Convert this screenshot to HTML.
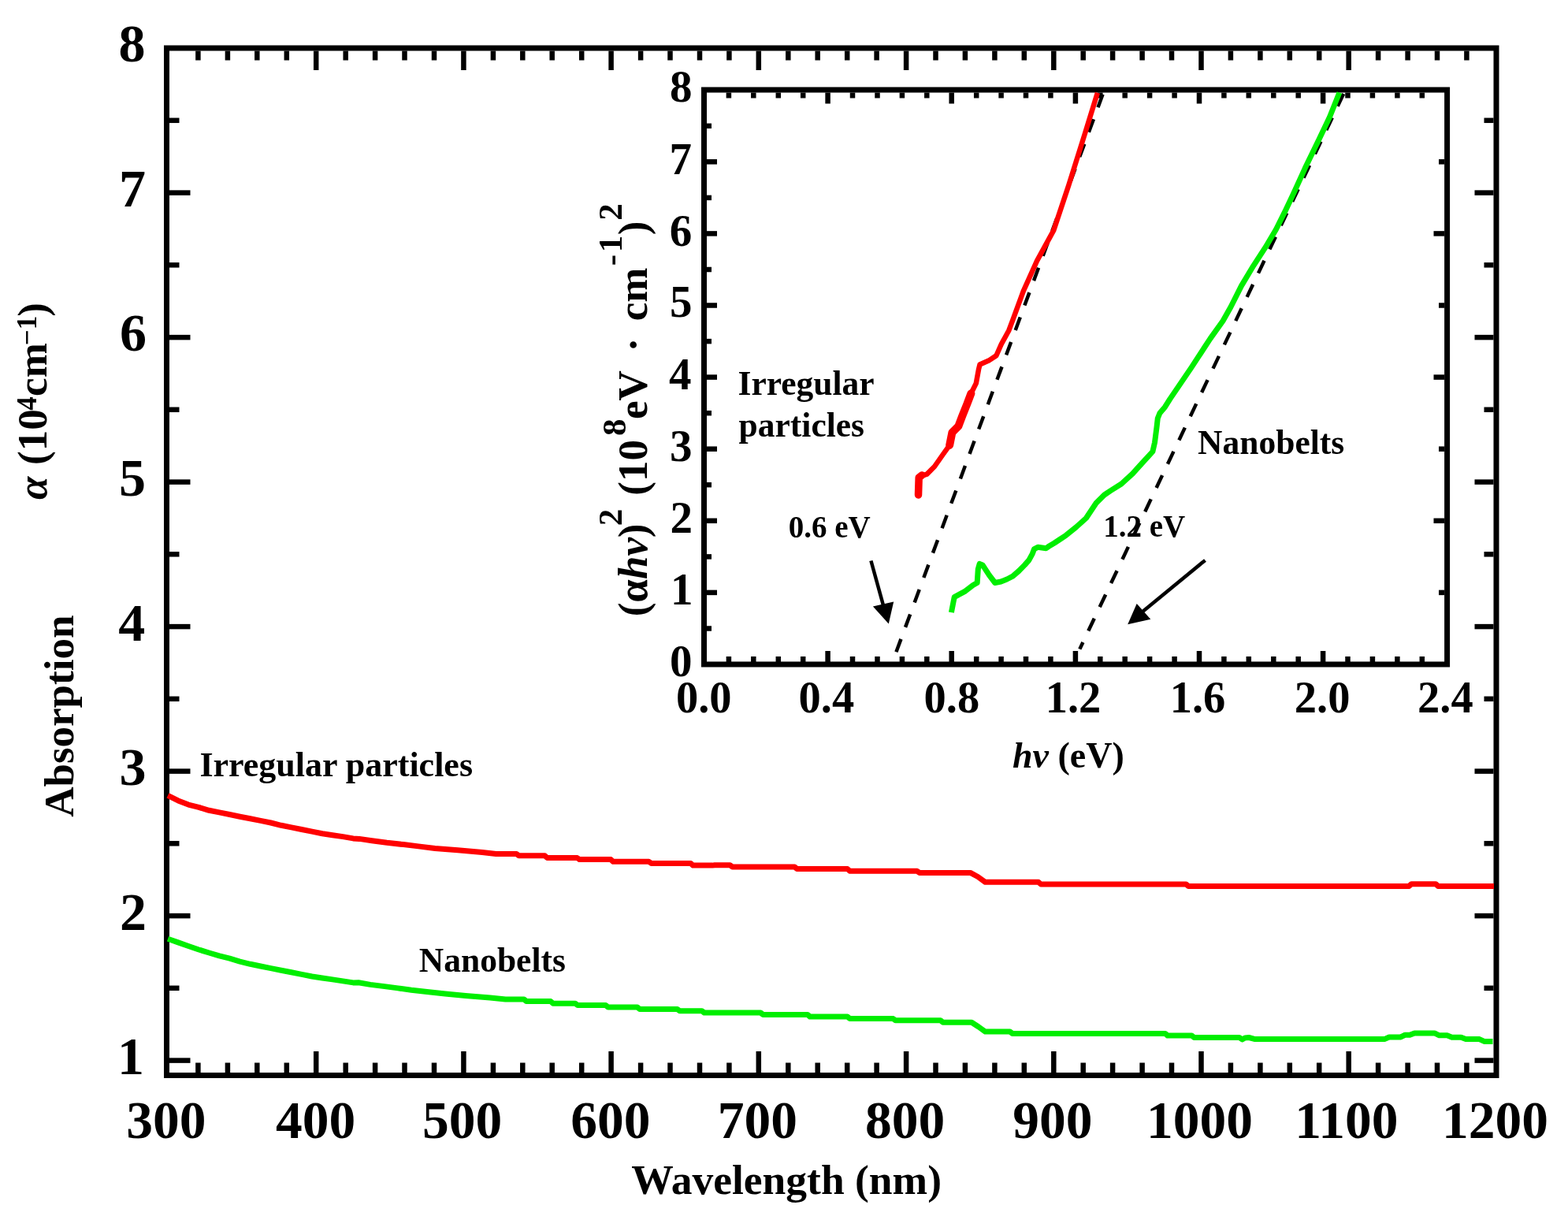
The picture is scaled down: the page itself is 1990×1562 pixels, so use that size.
<!DOCTYPE html>
<html><head><meta charset="utf-8"><title>Absorption spectra</title>
<style>html,body{margin:0;padding:0;background:#fff;}svg{display:block;}</style>
</head><body>
<svg width="1990" height="1562" viewBox="0 0 1990 1562">
<rect width="1990" height="1562" fill="#fff"/>
<rect x="211.5" y="61" width="1687.5" height="1303.5" fill="none" stroke="#000" stroke-width="7"/>
<g stroke="#000" stroke-width="6.5">
<line x1="251.4" y1="1361.0" x2="251.4" y2="1348.5"/>
<line x1="251.4" y1="64.5" x2="251.4" y2="76.5"/>
<line x1="288.9" y1="1361.0" x2="288.9" y2="1348.5"/>
<line x1="288.9" y1="64.5" x2="288.9" y2="76.5"/>
<line x1="326.3" y1="1361.0" x2="326.3" y2="1348.5"/>
<line x1="326.3" y1="64.5" x2="326.3" y2="76.5"/>
<line x1="363.8" y1="1361.0" x2="363.8" y2="1348.5"/>
<line x1="363.8" y1="64.5" x2="363.8" y2="76.5"/>
<line x1="401.2" y1="1361.0" x2="401.2" y2="1334.0"/>
<line x1="401.2" y1="64.5" x2="401.2" y2="89.0"/>
<line x1="438.7" y1="1361.0" x2="438.7" y2="1348.5"/>
<line x1="438.7" y1="64.5" x2="438.7" y2="76.5"/>
<line x1="476.1" y1="1361.0" x2="476.1" y2="1348.5"/>
<line x1="476.1" y1="64.5" x2="476.1" y2="76.5"/>
<line x1="513.5" y1="1361.0" x2="513.5" y2="1348.5"/>
<line x1="513.5" y1="64.5" x2="513.5" y2="76.5"/>
<line x1="551.0" y1="1361.0" x2="551.0" y2="1348.5"/>
<line x1="551.0" y1="64.5" x2="551.0" y2="76.5"/>
<line x1="588.4" y1="1361.0" x2="588.4" y2="1334.0"/>
<line x1="588.4" y1="64.5" x2="588.4" y2="89.0"/>
<line x1="625.9" y1="1361.0" x2="625.9" y2="1348.5"/>
<line x1="625.9" y1="64.5" x2="625.9" y2="76.5"/>
<line x1="663.3" y1="1361.0" x2="663.3" y2="1348.5"/>
<line x1="663.3" y1="64.5" x2="663.3" y2="76.5"/>
<line x1="700.7" y1="1361.0" x2="700.7" y2="1348.5"/>
<line x1="700.7" y1="64.5" x2="700.7" y2="76.5"/>
<line x1="738.2" y1="1361.0" x2="738.2" y2="1348.5"/>
<line x1="738.2" y1="64.5" x2="738.2" y2="76.5"/>
<line x1="775.6" y1="1361.0" x2="775.6" y2="1334.0"/>
<line x1="775.6" y1="64.5" x2="775.6" y2="89.0"/>
<line x1="813.1" y1="1361.0" x2="813.1" y2="1348.5"/>
<line x1="813.1" y1="64.5" x2="813.1" y2="76.5"/>
<line x1="850.5" y1="1361.0" x2="850.5" y2="1348.5"/>
<line x1="850.5" y1="64.5" x2="850.5" y2="76.5"/>
<line x1="888.0" y1="1361.0" x2="888.0" y2="1348.5"/>
<line x1="888.0" y1="64.5" x2="888.0" y2="76.5"/>
<line x1="925.4" y1="1361.0" x2="925.4" y2="1348.5"/>
<line x1="925.4" y1="64.5" x2="925.4" y2="76.5"/>
<line x1="962.8" y1="1361.0" x2="962.8" y2="1334.0"/>
<line x1="962.8" y1="64.5" x2="962.8" y2="89.0"/>
<line x1="1000.3" y1="1361.0" x2="1000.3" y2="1348.5"/>
<line x1="1000.3" y1="64.5" x2="1000.3" y2="76.5"/>
<line x1="1037.7" y1="1361.0" x2="1037.7" y2="1348.5"/>
<line x1="1037.7" y1="64.5" x2="1037.7" y2="76.5"/>
<line x1="1075.2" y1="1361.0" x2="1075.2" y2="1348.5"/>
<line x1="1075.2" y1="64.5" x2="1075.2" y2="76.5"/>
<line x1="1112.6" y1="1361.0" x2="1112.6" y2="1348.5"/>
<line x1="1112.6" y1="64.5" x2="1112.6" y2="76.5"/>
<line x1="1150.1" y1="1361.0" x2="1150.1" y2="1334.0"/>
<line x1="1150.1" y1="64.5" x2="1150.1" y2="89.0"/>
<line x1="1187.5" y1="1361.0" x2="1187.5" y2="1348.5"/>
<line x1="1187.5" y1="64.5" x2="1187.5" y2="76.5"/>
<line x1="1224.9" y1="1361.0" x2="1224.9" y2="1348.5"/>
<line x1="1224.9" y1="64.5" x2="1224.9" y2="76.5"/>
<line x1="1262.4" y1="1361.0" x2="1262.4" y2="1348.5"/>
<line x1="1262.4" y1="64.5" x2="1262.4" y2="76.5"/>
<line x1="1299.8" y1="1361.0" x2="1299.8" y2="1348.5"/>
<line x1="1299.8" y1="64.5" x2="1299.8" y2="76.5"/>
<line x1="1337.3" y1="1361.0" x2="1337.3" y2="1334.0"/>
<line x1="1337.3" y1="64.5" x2="1337.3" y2="89.0"/>
<line x1="1374.7" y1="1361.0" x2="1374.7" y2="1348.5"/>
<line x1="1374.7" y1="64.5" x2="1374.7" y2="76.5"/>
<line x1="1412.1" y1="1361.0" x2="1412.1" y2="1348.5"/>
<line x1="1412.1" y1="64.5" x2="1412.1" y2="76.5"/>
<line x1="1449.6" y1="1361.0" x2="1449.6" y2="1348.5"/>
<line x1="1449.6" y1="64.5" x2="1449.6" y2="76.5"/>
<line x1="1487.0" y1="1361.0" x2="1487.0" y2="1348.5"/>
<line x1="1487.0" y1="64.5" x2="1487.0" y2="76.5"/>
<line x1="1524.5" y1="1361.0" x2="1524.5" y2="1334.0"/>
<line x1="1524.5" y1="64.5" x2="1524.5" y2="89.0"/>
<line x1="1561.9" y1="1361.0" x2="1561.9" y2="1348.5"/>
<line x1="1561.9" y1="64.5" x2="1561.9" y2="76.5"/>
<line x1="1599.4" y1="1361.0" x2="1599.4" y2="1348.5"/>
<line x1="1599.4" y1="64.5" x2="1599.4" y2="76.5"/>
<line x1="1636.8" y1="1361.0" x2="1636.8" y2="1348.5"/>
<line x1="1636.8" y1="64.5" x2="1636.8" y2="76.5"/>
<line x1="1674.2" y1="1361.0" x2="1674.2" y2="1348.5"/>
<line x1="1674.2" y1="64.5" x2="1674.2" y2="76.5"/>
<line x1="1711.7" y1="1361.0" x2="1711.7" y2="1334.0"/>
<line x1="1711.7" y1="64.5" x2="1711.7" y2="89.0"/>
<line x1="1749.1" y1="1361.0" x2="1749.1" y2="1348.5"/>
<line x1="1749.1" y1="64.5" x2="1749.1" y2="76.5"/>
<line x1="1786.6" y1="1361.0" x2="1786.6" y2="1348.5"/>
<line x1="1786.6" y1="64.5" x2="1786.6" y2="76.5"/>
<line x1="1824.0" y1="1361.0" x2="1824.0" y2="1348.5"/>
<line x1="1824.0" y1="64.5" x2="1824.0" y2="76.5"/>
<line x1="1861.4" y1="1361.0" x2="1861.4" y2="1348.5"/>
<line x1="1861.4" y1="64.5" x2="1861.4" y2="76.5"/>
<line x1="215.0" y1="1345.6" x2="241.5" y2="1345.6"/>
<line x1="1895.5" y1="1345.6" x2="1871.5" y2="1345.6"/>
<line x1="215.0" y1="1253.8" x2="227.5" y2="1253.8"/>
<line x1="1895.5" y1="1253.8" x2="1883.5" y2="1253.8"/>
<line x1="215.0" y1="1162.1" x2="241.5" y2="1162.1"/>
<line x1="1895.5" y1="1162.1" x2="1871.5" y2="1162.1"/>
<line x1="215.0" y1="1070.3" x2="227.5" y2="1070.3"/>
<line x1="1895.5" y1="1070.3" x2="1883.5" y2="1070.3"/>
<line x1="215.0" y1="978.6" x2="241.5" y2="978.6"/>
<line x1="1895.5" y1="978.6" x2="1871.5" y2="978.6"/>
<line x1="215.0" y1="886.8" x2="227.5" y2="886.8"/>
<line x1="1895.5" y1="886.8" x2="1883.5" y2="886.8"/>
<line x1="215.0" y1="795.1" x2="241.5" y2="795.1"/>
<line x1="1895.5" y1="795.1" x2="1871.5" y2="795.1"/>
<line x1="215.0" y1="703.3" x2="227.5" y2="703.3"/>
<line x1="1895.5" y1="703.3" x2="1883.5" y2="703.3"/>
<line x1="215.0" y1="611.6" x2="241.5" y2="611.6"/>
<line x1="1895.5" y1="611.6" x2="1871.5" y2="611.6"/>
<line x1="215.0" y1="519.8" x2="227.5" y2="519.8"/>
<line x1="1895.5" y1="519.8" x2="1883.5" y2="519.8"/>
<line x1="215.0" y1="428.1" x2="241.5" y2="428.1"/>
<line x1="1895.5" y1="428.1" x2="1871.5" y2="428.1"/>
<line x1="215.0" y1="336.3" x2="227.5" y2="336.3"/>
<line x1="1895.5" y1="336.3" x2="1883.5" y2="336.3"/>
<line x1="215.0" y1="244.6" x2="241.5" y2="244.6"/>
<line x1="1895.5" y1="244.6" x2="1871.5" y2="244.6"/>
<line x1="215.0" y1="152.8" x2="227.5" y2="152.8"/>
<line x1="1895.5" y1="152.8" x2="1883.5" y2="152.8"/>
</g>
<rect x="893.5" y="114" width="943.1" height="729" fill="none" stroke="#000" stroke-width="7"/>
<g stroke="#000" stroke-width="6.5">
<line x1="924.9" y1="840.0" x2="924.9" y2="833.0"/>
<line x1="924.9" y1="117.5" x2="924.9" y2="124.5"/>
<line x1="956.3" y1="840.0" x2="956.3" y2="833.0"/>
<line x1="956.3" y1="117.5" x2="956.3" y2="124.5"/>
<line x1="987.8" y1="840.0" x2="987.8" y2="833.0"/>
<line x1="987.8" y1="117.5" x2="987.8" y2="124.5"/>
<line x1="1019.2" y1="840.0" x2="1019.2" y2="833.0"/>
<line x1="1019.2" y1="117.5" x2="1019.2" y2="124.5"/>
<line x1="1050.6" y1="840.0" x2="1050.6" y2="826.0"/>
<line x1="1050.6" y1="117.5" x2="1050.6" y2="131.5"/>
<line x1="1082.0" y1="840.0" x2="1082.0" y2="833.0"/>
<line x1="1082.0" y1="117.5" x2="1082.0" y2="124.5"/>
<line x1="1113.5" y1="840.0" x2="1113.5" y2="833.0"/>
<line x1="1113.5" y1="117.5" x2="1113.5" y2="124.5"/>
<line x1="1144.9" y1="840.0" x2="1144.9" y2="833.0"/>
<line x1="1144.9" y1="117.5" x2="1144.9" y2="124.5"/>
<line x1="1176.3" y1="840.0" x2="1176.3" y2="833.0"/>
<line x1="1176.3" y1="117.5" x2="1176.3" y2="124.5"/>
<line x1="1207.7" y1="840.0" x2="1207.7" y2="826.0"/>
<line x1="1207.7" y1="117.5" x2="1207.7" y2="131.5"/>
<line x1="1239.2" y1="840.0" x2="1239.2" y2="833.0"/>
<line x1="1239.2" y1="117.5" x2="1239.2" y2="124.5"/>
<line x1="1270.6" y1="840.0" x2="1270.6" y2="833.0"/>
<line x1="1270.6" y1="117.5" x2="1270.6" y2="124.5"/>
<line x1="1302.0" y1="840.0" x2="1302.0" y2="833.0"/>
<line x1="1302.0" y1="117.5" x2="1302.0" y2="124.5"/>
<line x1="1333.4" y1="840.0" x2="1333.4" y2="833.0"/>
<line x1="1333.4" y1="117.5" x2="1333.4" y2="124.5"/>
<line x1="1364.9" y1="840.0" x2="1364.9" y2="826.0"/>
<line x1="1364.9" y1="117.5" x2="1364.9" y2="131.5"/>
<line x1="1396.3" y1="840.0" x2="1396.3" y2="833.0"/>
<line x1="1396.3" y1="117.5" x2="1396.3" y2="124.5"/>
<line x1="1427.7" y1="840.0" x2="1427.7" y2="833.0"/>
<line x1="1427.7" y1="117.5" x2="1427.7" y2="124.5"/>
<line x1="1459.1" y1="840.0" x2="1459.1" y2="833.0"/>
<line x1="1459.1" y1="117.5" x2="1459.1" y2="124.5"/>
<line x1="1490.6" y1="840.0" x2="1490.6" y2="833.0"/>
<line x1="1490.6" y1="117.5" x2="1490.6" y2="124.5"/>
<line x1="1522.0" y1="840.0" x2="1522.0" y2="826.0"/>
<line x1="1522.0" y1="117.5" x2="1522.0" y2="131.5"/>
<line x1="1553.4" y1="840.0" x2="1553.4" y2="833.0"/>
<line x1="1553.4" y1="117.5" x2="1553.4" y2="124.5"/>
<line x1="1584.8" y1="840.0" x2="1584.8" y2="833.0"/>
<line x1="1584.8" y1="117.5" x2="1584.8" y2="124.5"/>
<line x1="1616.3" y1="840.0" x2="1616.3" y2="833.0"/>
<line x1="1616.3" y1="117.5" x2="1616.3" y2="124.5"/>
<line x1="1647.7" y1="840.0" x2="1647.7" y2="833.0"/>
<line x1="1647.7" y1="117.5" x2="1647.7" y2="124.5"/>
<line x1="1679.1" y1="840.0" x2="1679.1" y2="826.0"/>
<line x1="1679.1" y1="117.5" x2="1679.1" y2="131.5"/>
<line x1="1710.5" y1="840.0" x2="1710.5" y2="833.0"/>
<line x1="1710.5" y1="117.5" x2="1710.5" y2="124.5"/>
<line x1="1741.9" y1="840.0" x2="1741.9" y2="833.0"/>
<line x1="1741.9" y1="117.5" x2="1741.9" y2="124.5"/>
<line x1="1773.4" y1="840.0" x2="1773.4" y2="833.0"/>
<line x1="1773.4" y1="117.5" x2="1773.4" y2="124.5"/>
<line x1="1804.8" y1="840.0" x2="1804.8" y2="833.0"/>
<line x1="1804.8" y1="117.5" x2="1804.8" y2="124.5"/>
<line x1="897.0" y1="797.5" x2="903.0" y2="797.5"/>
<line x1="897.0" y1="751.9" x2="910.0" y2="751.9"/>
<line x1="897.0" y1="706.4" x2="903.0" y2="706.4"/>
<line x1="897.0" y1="660.8" x2="910.0" y2="660.8"/>
<line x1="897.0" y1="615.2" x2="903.0" y2="615.2"/>
<line x1="897.0" y1="569.7" x2="910.0" y2="569.7"/>
<line x1="897.0" y1="524.2" x2="903.0" y2="524.2"/>
<line x1="897.0" y1="478.6" x2="910.0" y2="478.6"/>
<line x1="897.0" y1="433.1" x2="903.0" y2="433.1"/>
<line x1="897.0" y1="387.5" x2="910.0" y2="387.5"/>
<line x1="897.0" y1="342.0" x2="903.0" y2="342.0"/>
<line x1="897.0" y1="296.4" x2="910.0" y2="296.4"/>
<line x1="897.0" y1="250.9" x2="903.0" y2="250.9"/>
<line x1="897.0" y1="205.3" x2="910.0" y2="205.3"/>
<line x1="897.0" y1="159.8" x2="903.0" y2="159.8"/>
<line x1="1833.0" y1="751.9" x2="1826.0" y2="751.9"/>
<line x1="1833.0" y1="660.8" x2="1819.5" y2="660.8"/>
<line x1="1833.0" y1="569.7" x2="1826.0" y2="569.7"/>
<line x1="1833.0" y1="478.6" x2="1819.5" y2="478.6"/>
<line x1="1833.0" y1="387.5" x2="1826.0" y2="387.5"/>
<line x1="1833.0" y1="296.4" x2="1819.5" y2="296.4"/>
<line x1="1833.0" y1="205.3" x2="1826.0" y2="205.3"/>
</g>
<line x1="1137.4" y1="827.3" x2="1400.4" y2="117.5" stroke="#000" stroke-width="4.5" stroke-dasharray="17.5 16"/>
<line x1="1370.3" y1="823.6" x2="1705.9" y2="117.5" stroke="#000" stroke-width="4.5" stroke-dasharray="17.5 16" stroke-dashoffset="7.9"/>
<polyline points="213.0,1009.4 226.1,1015.9 239.2,1021.1 252.3,1024.4 265.3,1028.3 278.4,1030.9 291.5,1033.5 304.5,1036.2 317.6,1038.8 330.7,1041.4 343.7,1044.0 356.8,1047.3 369.8,1049.9 382.9,1052.5 396.0,1055.1 409.0,1057.7 422.1,1059.7 435.2,1061.6 448.2,1063.9 456.0,1064.4 472.0,1066.7 491.0,1069.3 512.0,1071.6 531.0,1073.9 552.0,1076.5 581.0,1078.7 612.0,1081.4 629.5,1083.4 655.5,1083.4 658.5,1085.8 691.5,1085.8 694.5,1088.5 732.5,1088.5 735.5,1090.6 775.2,1090.6 778.2,1093.3 823.5,1093.3 826.5,1095.4 876.5,1095.4 879.5,1098.1 904.0,1098.1 907.0,1097.7 926.5,1097.7 929.5,1100.1 1008.5,1100.1 1011.5,1102.5 1075.5,1102.5 1078.5,1105.3 1163.9,1105.3 1166.9,1107.4 1231.5,1107.4 1241.0,1112.5 1250.5,1119.3 1318.0,1119.3 1321.0,1122.0 1505.3,1122.0 1508.3,1124.4 1788.3,1124.4 1791.3,1121.7 1822.1,1121.7 1825.1,1124.4 1896.0,1124.4" fill="none" stroke="#ff0000" stroke-width="7" stroke-linejoin="round" stroke-linecap="butt"/>
<polyline points="213.0,1191.3 226.1,1195.9 239.2,1200.5 252.3,1205.0 265.3,1209.0 278.4,1212.9 291.5,1216.2 304.5,1220.1 317.6,1223.3 330.7,1226.0 343.7,1228.6 356.8,1231.2 369.8,1233.8 382.9,1236.4 396.0,1239.0 409.0,1241.0 422.1,1242.9 435.2,1244.9 448.2,1246.9 455.0,1246.8 470.0,1249.4 488.0,1251.6 505.0,1253.9 522.0,1256.3 542.0,1258.5 565.0,1261.1 591.0,1263.5 622.0,1266.0 641.5,1268.0 665.0,1268.0 668.0,1270.5 698.8,1270.5 701.8,1273.2 730.1,1273.2 733.1,1275.6 768.7,1275.6 771.7,1278.0 808.9,1278.0 811.9,1280.4 859.6,1280.4 862.6,1282.8 890.9,1282.8 893.9,1285.1 965.4,1285.1 968.4,1287.4 1024.9,1287.4 1027.9,1290.0 1075.5,1290.0 1078.5,1292.4 1133.4,1292.4 1136.4,1294.8 1193.7,1294.8 1196.7,1297.2 1233.1,1297.2 1242.0,1303.0 1250.5,1309.1 1281.8,1309.1 1284.8,1311.4 1478.8,1311.4 1481.8,1314.0 1512.5,1314.0 1515.5,1316.4 1572.8,1316.4 1576.5,1319.0 1580.0,1317.0 1585.0,1316.5 1592.9,1318.6 1595.9,1318.6 1757.0,1318.6 1763.0,1316.0 1777.2,1316.0 1783.2,1313.3 1789.2,1313.3 1795.2,1310.9 1820.6,1310.9 1826.6,1313.8 1836.6,1313.8 1842.6,1316.2 1854.3,1316.2 1860.3,1318.6 1877.6,1318.6 1883.6,1321.4 1894.5,1321.4" fill="none" stroke="#00ee00" stroke-width="7" stroke-linejoin="round" stroke-linecap="butt"/>
<polyline points="1165.5,627.0 1166.5,605.0 1176.4,601.6 1186.0,592.0 1197.2,576.0 1205.2,564.8 1208.4,548.8 1216.4,540.8 1221.2,528.0 1227.6,512.0 1232.4,499.2 1238.8,486.4 1242.0,468.8 1243.6,462.4 1254.8,457.6 1264.4,451.2 1270.8,436.8 1280.4,419.2 1285.4,405.8 1298.8,369.3 1316.1,330.9 1337.2,292.4 1356.4,234.8 1377.5,167.6 1392.9,117.7" fill="none" stroke="#ff0000" stroke-width="6.5" stroke-linejoin="round" stroke-linecap="butt"/>
<polyline points="1165.5,628.0 1166.2,606.0 1170.0,603.0" fill="none" stroke="#ff0000" stroke-width="9.5" stroke-linejoin="round" stroke-linecap="round"/>
<polyline points="1205.2,564.8 1208.4,548.8 1216.4,540.8 1221.2,528.0 1227.6,512.0 1232.4,499.2" fill="none" stroke="#ff0000" stroke-width="10" stroke-linejoin="round" stroke-linecap="round"/>
<polyline points="1207.4,777.2 1211.2,757.6 1217.6,754.2 1225.1,750.1 1234.9,742.5 1240.2,739.5 1241.3,722.2 1243.2,715.4 1247.0,716.9 1255.3,729.7 1262.8,739.5 1270.4,738.0 1277.9,735.0 1285.4,731.2 1293.0,724.5 1300.5,716.9 1305.8,710.9 1310.3,702.6 1312.6,696.6 1317.1,694.3 1327.6,695.8 1330.6,693.6 1338.2,689.0 1345.0,684.5 1352.8,679.3 1365.6,669.0 1378.4,657.5 1391.2,638.3 1401.5,628.0 1409.1,622.9 1423.2,614.0 1437.3,601.2 1448.8,588.3 1462.9,573.0 1465.5,561.5 1468.0,542.3 1469.3,530.7 1471.9,524.3 1478.5,516.4 1484.8,506.4 1512.0,466.4 1536.0,429.6 1552.0,407.2 1562.0,389.5 1575.4,362.9 1590.7,337.3 1606.1,313.7 1619.4,291.2 1631.7,266.6 1641.9,245.1 1656.2,213.6 1674.9,174.9 1687.4,148.7 1699.9,117.5" fill="none" stroke="#00ee00" stroke-width="7" stroke-linejoin="round" stroke-linecap="butt"/>
<line x1="1105.4" y1="711.5" x2="1121" y2="768" stroke="#000" stroke-width="4.5"/>
<polygon points="1107.9,769.5 1134.2,763.4 1127.8,791.6" fill="#000"/>
<line x1="1529.5" y1="710.9" x2="1449" y2="777" stroke="#000" stroke-width="4.5"/>
<polygon points="1442.7,766 1460.3,785.8 1431.2,792.2" fill="#000"/>
<g font-family="Liberation Serif, Times New Roman, serif" font-weight="bold" fill="#000">
<text x="149.1" y="1363.0" font-size="68">1</text>
<text x="151.9" y="1179.6" font-size="68">2</text>
<text x="151.4" y="995.8" font-size="68">3</text>
<text x="150.2" y="812.5" font-size="68">4</text>
<text x="151.1" y="628.5" font-size="68">5</text>
<text x="152.0" y="445.3" font-size="68">6</text>
<text x="151.1" y="261.9" font-size="68">7</text>
<text x="150.6" y="78.4" font-size="68">8</text>
<text x="160.3" y="1444.0" font-size="67.5">300</text>
<text x="350.1" y="1444.0" font-size="67.5">400</text>
<text x="536.0" y="1444.0" font-size="67.5">500</text>
<text x="724.2" y="1444.0" font-size="67.5">600</text>
<text x="910.7" y="1444.0" font-size="67.5">700</text>
<text x="1098.1" y="1444.0" font-size="67.5">800</text>
<text x="1285.2" y="1444.0" font-size="67.5">900</text>
<text x="1455.0" y="1444.0" font-size="67.5">1000</text>
<text x="1643.2" y="1444.0" font-size="67.5">1100</text>
<text x="1830.1" y="1444.0" font-size="67.5">1200</text>
<text x="850.1" y="858.2" font-size="57">0</text>
<text x="851.0" y="767.2" font-size="57">1</text>
<text x="850.4" y="676.2" font-size="57">2</text>
<text x="850.0" y="584.8" font-size="57">3</text>
<text x="849.0" y="493.8" font-size="57">4</text>
<text x="850.1" y="402.4" font-size="57">5</text>
<text x="849.7" y="311.5" font-size="57">6</text>
<text x="849.4" y="220.5" font-size="57">7</text>
<text x="849.9" y="129.4" font-size="57">8</text>
<text x="857.9" y="904.0" font-size="56.5">0.0</text>
<text x="1013.5" y="904.0" font-size="56.5">0.4</text>
<text x="1172.5" y="904.0" font-size="56.5">0.8</text>
<text x="1326.7" y="904.0" font-size="56.5">1.2</text>
<text x="1484.7" y="904.0" font-size="56.5">1.6</text>
<text x="1642.8" y="904.0" font-size="56.5">2.0</text>
<text x="1799.0" y="904.0" font-size="56.5">2.4</text>
<text x="801.2" y="1514.9" font-size="53.5" >Wavelength (nm)</text>
<text x="253.4" y="984.7" font-size="44" >Irregular particles</text>
<text x="531.8" y="1233.3" font-size="43.5" >Nanobelts</text>
<text x="936.5" y="501.2" font-size="43.5" >Irregular</text>
<text x="937.6" y="554.0" font-size="43.5" >particles</text>
<text x="1520.1" y="575.5" font-size="43.5" >Nanobelts</text>
<text x="1000.8" y="681.5" font-size="39" >0.6 eV</text>
<text x="1400.3" y="681.4" font-size="39" >1.2 eV</text>
<text x="1285.0" y="973.8" font-size="46"><tspan font-style="italic">hv</tspan> (eV)</text>
<text transform="rotate(-90)" x="-1036.8" y="92.8" font-size="53">Absorption</text>
<text transform="rotate(-90)" font-size="53"><tspan x="-634.1" y="58.5" font-style="italic">&#945; </tspan><tspan x="-590.0" y="58.5">(10</tspan><tspan x="-520.8" y="46" font-size="35">4</tspan><tspan x="-502.9" y="58.5">cm</tspan><tspan x="-438.2" y="46" font-size="35">&#8722;1</tspan><tspan x="-401.8" y="58.5">)</tspan></text>
<text transform="rotate(-90)" font-size="53"><tspan x="-782.3" y="820.5">(</tspan><tspan>&#945;</tspan><tspan font-style="italic">hv</tspan><tspan x="-682.2" y="820.5">)</tspan><tspan x="-667.2" y="789" font-size="43">2 </tspan><tspan x="-628.7" y="820.5">(10</tspan><tspan x="-553.1" y="793.5" font-size="43">8</tspan><tspan x="-532.1" y="820.5">eV </tspan><tspan x="-446.2" y="820.5">&#183; </tspan><tspan x="-407.3" y="820.5">cm</tspan><tspan x="-337.3" y="789" font-size="43">-</tspan><tspan x="-320.2" y="789" font-size="43">1</tspan><tspan x="-298.2" y="820.5">)</tspan><tspan x="-279.8" y="789" font-size="43">2</tspan></text>
</g>
</svg>
</body></html>
